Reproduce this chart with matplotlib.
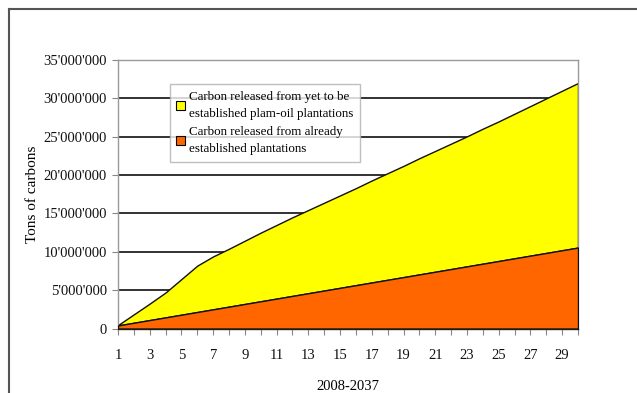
import matplotlib
matplotlib.use("Agg")
import matplotlib.pyplot as plt
from matplotlib.lines import Line2D
from matplotlib.patches import Patch
from matplotlib.ticker import FuncFormatter

plt.rcParams['font.family'] = ['Liberation Serif', 'DejaVu Serif']

years = list(range(1, 31))
established = [0.40, 0.75, 1.10, 1.45, 1.80, 2.15, 2.50, 2.85, 3.20, 3.55,
               3.90, 4.25, 4.60, 4.95, 5.30, 5.65, 6.00, 6.35, 6.70, 7.05,
               7.40, 7.75, 8.10, 8.45, 8.80, 9.15, 9.50, 9.85, 10.20, 10.55]
yet_to_be = [0.05, 1.10, 2.15, 3.25, 4.65, 6.05, 6.90, 7.55, 8.25, 8.95,
             9.60, 10.25, 10.85, 11.45, 12.05, 12.65, 13.30, 13.90, 14.50, 15.15,
             15.75, 16.35, 16.95, 17.60, 18.20, 18.85, 19.50, 20.15, 20.80, 21.45]
established = [v * 1e6 for v in established]
yet_to_be = [v * 1e6 for v in yet_to_be]
total = [a + b for a, b in zip(established, yet_to_be)]

label_yet = "Carbon released from yet to be\nestablished plam-oil plantations"
label_est = "Carbon released from already\nestablished plantations"
yticks = [0, 5e6, 10e6, 15e6, 20e6, 25e6, 30e6, 35e6]
xticklabels = [str(y) if y % 2 == 1 else "" for y in years]

YELLOW = "#FFFF00"
ORANGE = "#FF6600"

fig = plt.figure(figsize=(6.37, 3.93), dpi=100)
ax = fig.add_axes([118/637, 1 - 328.5/393, 460/637, 268.5/393])

for yv in yticks[1:]:
    ax.axhline(yv, color="#222222", lw=1.3, zorder=1)

ax.fill_between(years, established, total, facecolor=YELLOW, edgecolor="#111111", lw=1.0, zorder=2)
ax.fill_between(years, 0, established, facecolor=ORANGE, edgecolor="#111111", lw=1.0, zorder=3)

ax.set_xlim(1, 30)
ax.set_ylim(0, 35e6)
ax.set_yticks(yticks)
ax.yaxis.set_major_formatter(FuncFormatter(lambda v, p: "{:,}".format(int(v)).replace(",", "'")))
ax.set_xticks(years)
ax.set_xticklabels(xticklabels)
ax.tick_params(axis='both', colors="#888888", labelcolor="#111111", labelsize=10.5, length=4, width=0.8)
ax.tick_params(axis='x', pad=11)
ax.tick_params(axis='y', pad=4)
for s in ax.spines.values():
    s.set_color("#999999")
    s.set_linewidth(1.0)
ax.spines['bottom'].set_color("#333333")

ax.set_ylabel("Tons of carbons", fontsize=11, labelpad=3)
ax.set_xlabel("2008-2037", fontsize=10.5, labelpad=13)

handles = [Patch(facecolor=YELLOW, edgecolor="black", lw=0.8),
           Patch(facecolor=ORANGE, edgecolor="black", lw=0.8)]
leg = ax.legend(handles, [label_yet, label_est], loc="upper left",
                bbox_to_anchor=(0.112, 0.91), fontsize=9.4, frameon=True,
                fancybox=False, edgecolor="#b0b0b0", handlelength=0.7, handleheight=0.7,
                handletextpad=0.3, borderpad=0.5, labelspacing=0.5, borderaxespad=0)
for t in leg.get_texts():
    t.set_linespacing(1.55)
leg.get_frame().set_linewidth(1.0)
leg.set_zorder(5)

fig.add_artist(Line2D([8.5/637, 8.5/637], [0, 1 - 9/393], transform=fig.transFigure, color="#555555", lw=1.5))
fig.add_artist(Line2D([8.5/637, 1], [1 - 9/393, 1 - 9/393], transform=fig.transFigure, color="#555555", lw=1.5))

fig.savefig("out.png", dpi=100)
